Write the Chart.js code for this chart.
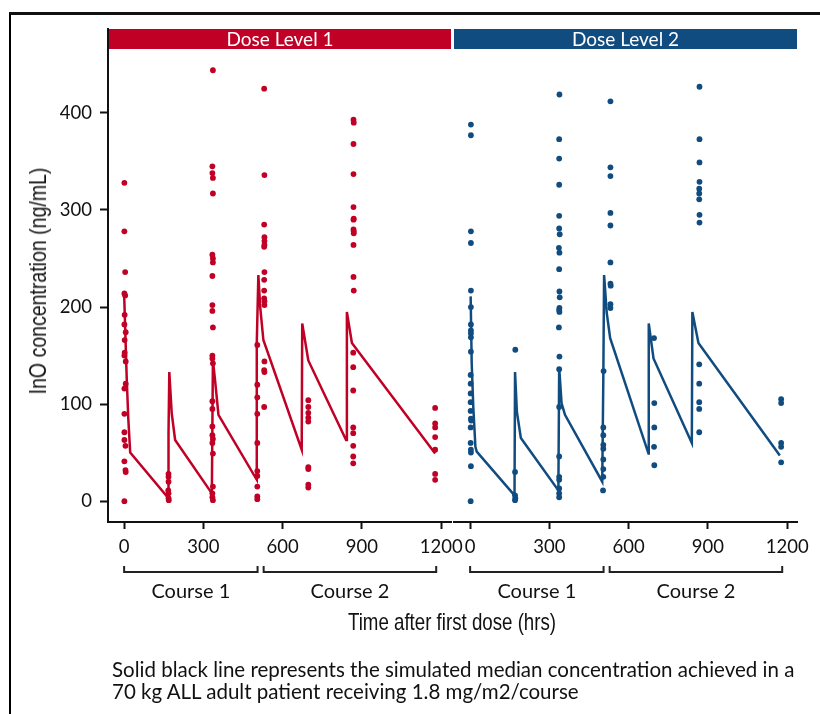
<!DOCTYPE html>
<html>
<head>
<meta charset="utf-8">
<script src="https://cdn.jsdelivr.net/npm/chart.js@4.4.1/dist/chart.umd.min.js"></script>
<style>
  html, body { margin:0; padding:0; background:#fff; }
  #wrap { position:relative; width:820px; height:714px; overflow:hidden; background:#fff; }
  #frame { position:absolute; left:9px; top:12px; width:900px; height:800px; border-left:2px solid #000; border-top:3px solid #111; }
  canvas { position:absolute; left:0; top:0; }
  .ttl { position:absolute; font-family:'Liberation Sans',sans-serif; color:#111; white-space:nowrap; font-size:24px; line-height:26px; }
  #xt { left:452px; top:609px; transform-origin:50% 50%; }
  #yt { left:38px; top:281px; }
  #cap { position:absolute; left:112px; top:658px; font-family:'Lato',sans-serif; font-size:20px; line-height:22px; color:#111; white-space:nowrap; }
</style>
</head>
<body>
<div id="wrap">
  <div id="frame"></div>
  <canvas id="c1" width="820" height="714"></canvas>
  <canvas id="c2" width="820" height="714"></canvas>
  <div class="ttl" id="xt">Time after first dose (hrs)</div>
  <div class="ttl" id="yt">InO concentration (ng/mL)</div>
  <div id="cap"><span id="cap1">Solid black line represents the simulated median concentration achieved in a</span><br><span>70 kg ALL adult patient receiving 1.8 mg/m2/course</span></div>
</div>
<script>
// ---------- data ----------
const panelTitles = ['Dose Level 1', 'Dose Level 2'];
const xTicks = [0, 300, 600, 900, 1200];
const yTicks = [0, 100, 200, 300, 400];
const courseLabels = ['Course 1', 'Course 2'];
const courseStart = [0, 528];
const courseEnd = [505, 1181];

// observed concentrations [time (h), concentration (ng/mL)]
const dl1Obs = [
  [1,328],[1,278],[4,236],[1,214],[4,212],[2,192],[1,182],[6,174],[2,166],[2,153],[1,150],[6,144],[6,121],[1,116],[1,90],[1,71],[1,63],[5,57],[1,41],[5,32],[6,30],[1,0],
  [168,28],[168,25],[168,20],[167,11],[168,8],[168,3],[169,1],
  [336,444],[334,345],[334,338],[336,333],[336,317],[334,254],[336,250],[336,246],[334,232],[334,202],[334,196],[336,179],[334,150],[334,147],[336,142],[334,103],[334,95],[334,77],[334,68],[336,64],[334,60],[336,49],[336,15],[334,8],[334,4],[336,1],
  [504,161],[504,120],[504,107],[504,90],[504,60],[504,31],[504,26],[504,15],[504,5],[504,2],
  [530,425],[531,336],[530,285],[531,272],[531,268],[531,264],[530,262],[531,236],[530,228],[530,217],[530,209],[531,206],[531,202],[531,144],[530,135],[531,133],[530,97],
  [697,104],[697,97],[697,91],[697,86],[697,82],[697,35],[697,33],[697,17],[697,14],
  [868,393],[869,390],[868,368],[868,337],[868,303],[869,291],[868,290],[868,280],[869,278],[869,276],[868,264],[868,231],[869,217],[867,153],[867,138],[867,114],[867,76],[867,70],[867,57],[867,46],[867,39],
  [1177,96],[1177,80],[1177,76],[1177,66],[1177,53],[1177,28],[1177,22]
];
const dl2Obs = [
  [3,388],[3,377],[3,278],[3,266],[3,217],[3,200],[3,182],[3,176],[3,173],[3,169],[3,154],[2,130],[2,121],[2,111],[2,102],[2,93],[3,85],[4,83],[2,76],[2,60],[3,53],[3,50],[3,36],[2,0],
  [171,156],[170,30],[170,6],[171,3],[170,1],
  [338,419],[337,373],[337,353],[337,326],[337,294],[337,281],[339,275],[336,261],[338,256],[337,239],[338,216],[339,210],[338,199],[337,197],[338,195],[336,179],[338,149],[337,136],[337,97],[337,46],[337,25],[337,22],[337,13],[337,8],[337,4],
  [505,134],[504,76],[504,68],[504,58],[504,54],[504,43],[504,33],[504,25],[503,11],
  [531,412],[531,344],[531,335],[531,297],[531,284],[531,246],[531,224],[532,222],[531,203],[531,199],
  [696,168],[697,101],[697,76],[696,56],[697,37],
  [868,427],[868,373],[868,349],[868,329],[867,322],[867,317],[867,311],[868,295],[868,287],[867,141],[867,121],[867,102],[867,95],[867,71],
  [1177,105],[1177,101],[1177,60],[1177,56],[1177,40]
];

// simulated median concentration
const dl1MedTime = [0,10,16,23,168,168,171,180,193,332,336,344,357,502,502,508,515,527,672,674,697,840,843,862,1177];
const dl1MedConc = [214,125,84,50,3,70,133,91,63,8,145,125,89,22,163,233,200,166,53,183,145,63,195,163,49];
const dl2MedTime = [2,6,12,20,25,168,170,177,192,334,337,346,359,500,504,507,517,530,675,676,694,839,841,864,1172];
const dl2MedConc = [211,142,97,56,51,6,133,92,65,11,138,101,89,20,125,233,194,168,49,183,147,60,195,163,47];

// ---------- styling ----------
const RED = '#C10026';
const BLUE = '#114C80';
const TICK_FONT = { family: 'Lato', size: 18.5 };

const stripPlugin = {
  id: 'strip',
  beforeDatasetsDraw(chart, args, opts) {
    const a = chart.chartArea, ctx = chart.ctx;
    ctx.save();
    ctx.fillStyle = opts.color;
    ctx.fillRect(a.left + opts.inset, a.top, a.right - a.left - opts.inset, 20);
    ctx.fillStyle = '#fff';
    ctx.font = '19px Lato';
    ctx.textAlign = 'center';
    ctx.textBaseline = 'middle';
    ctx.fillText(opts.text, (a.left + opts.inset + a.right) / 2, a.top + 10.5);
    ctx.restore();
  }
};

const coursePlugin = {
  id: 'courses',
  afterDraw(chart) {
    const xs = chart.scales.x, ctx = chart.ctx;
    const yb = chart.chartArea.bottom + 50;
    ctx.save();
    ctx.strokeStyle = '#222';
    ctx.lineWidth = 2;
    ctx.fillStyle = '#111';
    ctx.font = '20px Lato';
    ctx.textAlign = 'center';
    ctx.textBaseline = 'middle';
    for (let i = 0; i < courseLabels.length; i++) {
      const x0 = xs.getPixelForValue(courseStart[i]);
      const x1 = xs.getPixelForValue(courseEnd[i]);
      ctx.beginPath();
      ctx.moveTo(x0, yb - 6);
      ctx.lineTo(x0, yb);
      ctx.lineTo(x1, yb);
      ctx.lineTo(x1, yb - 6);
      ctx.stroke();
      ctx.fillText(courseLabels[i], (x0 + x1) / 2, yb + 20);
    }
    ctx.restore();
  }
};

function makeChart(id, obs, medT, medC, color, title, showY, padLeft, padRight, inset) {
  return new Chart(document.getElementById(id), {
    type: 'scatter',
    data: {
      datasets: [
        {
          data: obs.map(p => ({ x: p[0], y: p[1] })),
          backgroundColor: color, borderColor: color,
          pointRadius: 2.9, pointBorderWidth: 0, showLine: false
        },
        {
          data: medT.map((t, i) => ({ x: t, y: medC[i] })),
          borderColor: color, borderWidth: 2.5, pointRadius: 0,
          showLine: true, fill: false, tension: 0
        }
      ]
    },
    options: {
      responsive: false, animation: false, devicePixelRatio: 1,
      layout: { padding: { left: padLeft, right: padRight, top: 29, bottom: 152 } },
      plugins: {
        legend: { display: false }, tooltip: { enabled: false },
        strip: { color: color, text: title, inset: inset }
      },
      scales: {
        x: {
          type: 'linear', min: -61, max: 1237,
          afterBuildTicks: s => { s.ticks = xTicks.map(v => ({ value: v })); },
          afterFit: s => { s.height = 40; },
          grid: { drawOnChartArea: false, drawTicks: true, tickLength: 7, tickWidth: 2, tickColor: '#111' },
          border: { display: true, color: '#111', width: 2 },
          ticks: { color: '#111', font: TICK_FONT, padding: 7, maxRotation: 0, autoSkip: false, callback: v => String(v) }
        },
        y: {
          type: 'linear', min: -21.5, max: 486.5, display: showY,
          afterBuildTicks: s => { s.ticks = yTicks.map(v => ({ value: v })); },
          afterFit: s => { s.width = showY ? 60 : 0; },
          grid: { drawOnChartArea: false, drawTicks: true, tickLength: 8, tickWidth: 2, tickColor: '#111' },
          border: { display: true, color: '#111', width: 2 },
          ticks: { color: '#111', font: TICK_FONT, padding: 8, callback: v => String(v) }
        }
      }
    },
    plugins: [stripPlugin, coursePlugin]
  });
}

makeChart('c1', dl1Obs, dl1MedTime, dl1MedConc, RED, panelTitles[0], true, 48, 369, 1);
makeChart('c2', dl2Obs, dl2MedTime, dl2MedConc, BLUE, panelTitles[1], false, 454, 23, 0);

// condensed axis titles: fit to the reference text lengths
(function () {
  const xt = document.getElementById('xt');
  const yt = document.getElementById('yt');
  const sx = 208 / xt.offsetWidth;
  const sy = 227 / yt.offsetWidth;
  xt.style.transform = 'translateX(-50%) scaleX(' + sx + ')';
  yt.style.transform = 'translate(-50%,-50%) rotate(-90deg) scaleX(' + sy + ')';
  const cap = document.getElementById('cap');
  const c1 = document.getElementById('cap1');
  cap.style.fontSize = (20 * 683 / c1.offsetWidth).toFixed(2) + 'px';
})();
</script>
</body>
</html>
